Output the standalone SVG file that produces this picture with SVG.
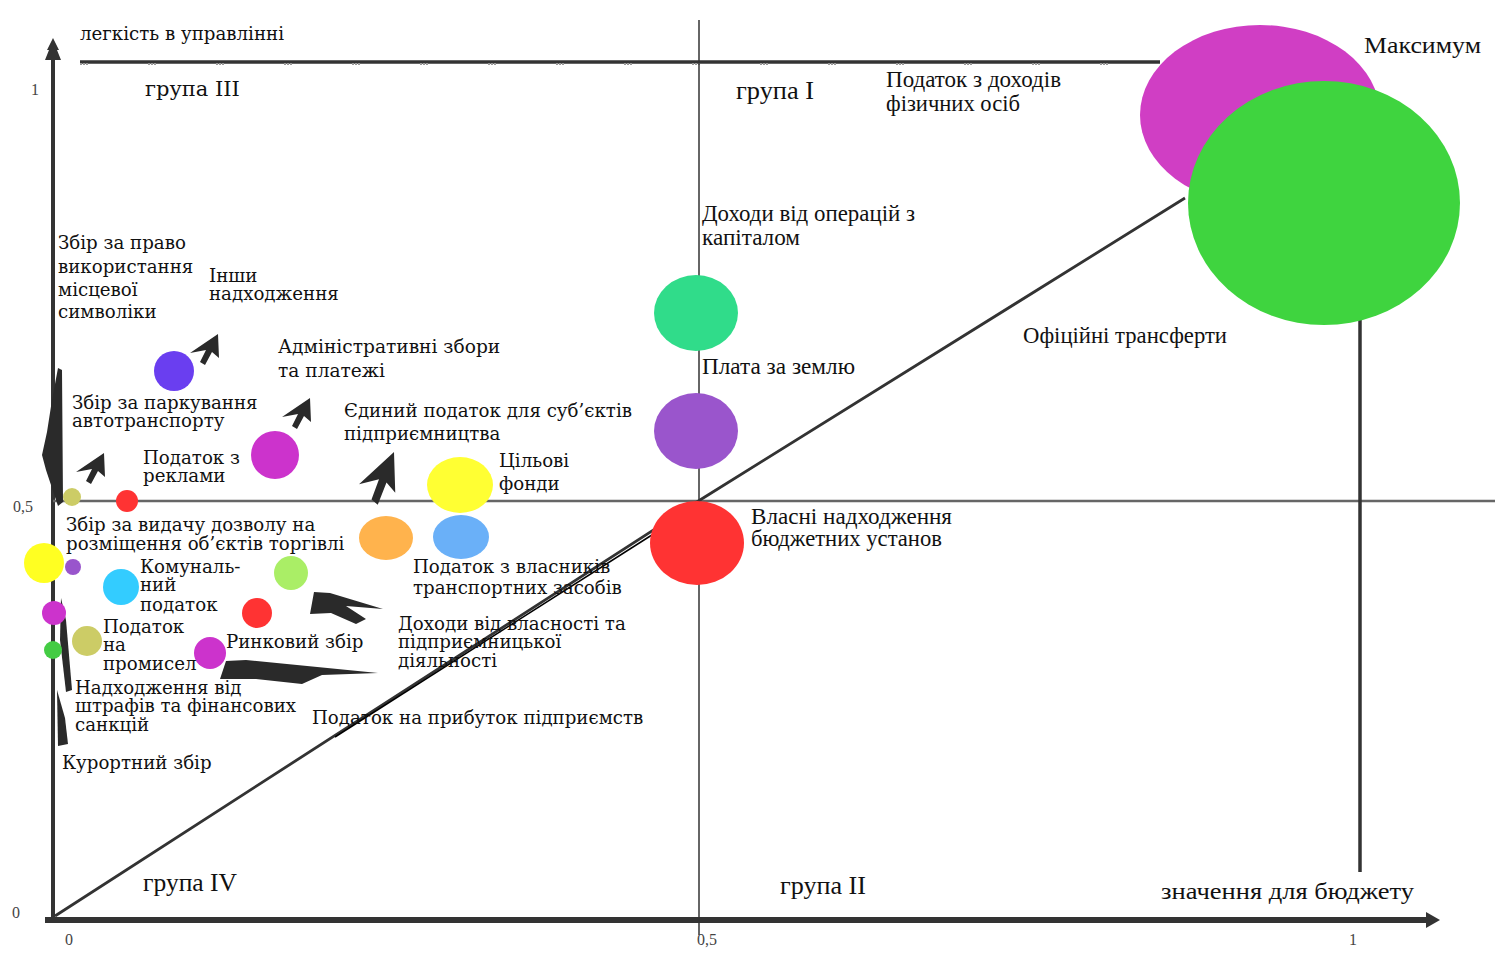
<svg xmlns="http://www.w3.org/2000/svg" width="1495" height="958" viewBox="0 0 1495 958">
<style>
.l{font-family:"DejaVu Serif","Liberation Serif",serif;font-size:18.2px;fill:#111}
.r{font-family:"Liberation Serif","DejaVu Serif",serif;font-size:22.5px;fill:#111}
.t{font-family:"Liberation Serif",serif;font-size:16px;fill:#444}
.ax{stroke:#333;fill:none}
.arw{fill:#2a2a2a}
</style>
<defs>
<path id="ua" d="M0,0 L1,24 L-6,18 L-13,31 L-18,28 L-12,16 L-28,19 Z"/>
</defs>
<rect width="1495" height="958" fill="#fff"/>
<g id="connectors">
  <line class="ax" x1="53" y1="920" x2="53" y2="55" stroke-width="4"/>
  <path d="M53,38 L59,50 L57,50 L61,60 L45,60 L49,50 L47,50 Z" fill="#333"/>
  <line class="ax" x1="45" y1="920" x2="1428" y2="920" stroke-width="6"/>
  <path d="M1426,912 L1440,920 L1426,928 Z" fill="#333"/>
  <line class="ax" x1="80" y1="62" x2="1160" y2="62" stroke-width="3.5"/>
  <line x1="80" y1="64" x2="1160" y2="64" stroke="#999" stroke-width="2" stroke-dasharray="2,1,2,1,2,60"/>
  <line class="ax" x1="699" y1="20" x2="699" y2="935" stroke-width="1.5"/>
  <line x1="53" y1="501" x2="1495" y2="501" stroke="#666" stroke-width="2.5"/>
  <line class="ax" x1="1360" y1="320" x2="1360" y2="872" stroke-width="3.5"/>
  <polyline class="ax" points="55,916 700,500 1185,198" stroke-width="2.8" stroke="#444"/>
  <line x1="335" y1="737" x2="655" y2="533" stroke="#000" stroke-width="1.5"/>
</g>
<g id="arrows">
  <use href="#ua" class="arw" transform="translate(218,334)"/>
  <use href="#ua" class="arw" transform="translate(310,398)"/>
  <use href="#ua" class="arw" transform="translate(104,453)"/>
  <use href="#ua" class="arw" transform="translate(394,452) scale(1.25,1.7)"/>
  <path class="arw" d="M314,592 L330,593 L383,609 L346,606 L366,619 L356,624 L331,613 L310,614 Z"/>
  <path class="arw" d="M226,661 L246,660 L378,673 L322,675 L302,684 L256,679 L220,679 Z"/>
  <path class="arw" d="M58,368 L62,370 L63,502 L58,506 L54,494 L46,470 L42,455 L47,432 L52,400 Z"/>
  <path class="arw" d="M61,598 L66,620 L72,690 L66,692 L60,640 Z"/>
  <path class="arw" d="M57,690 L65,718 L68,744 L58,746 Z"/>
</g>
<g id="ticks">
  <text class="t" x="31" y="95">1</text>
  <text class="t" x="13" y="512">0,5</text>
  <text class="t" x="12" y="918">0</text>
  <text class="t" x="65" y="945">0</text>
  <text class="t" x="697" y="945">0,5</text>
  <text class="t" x="1349" y="945">1</text>
</g>
<g id="n-pdfo"><ellipse cx="1260" cy="115" rx="120" ry="90" fill="#d03ec4"/></g>
<g id="n-transfers"><ellipse cx="1324" cy="203" rx="136" ry="122" fill="#3fd43f"/></g>
<g id="n-capital"><ellipse cx="696" cy="313" rx="42" ry="38" fill="#30dc8a"/></g>
<g id="n-land"><ellipse cx="696" cy="431" rx="42" ry="38" fill="#9a55cc"/></g>
<g id="n-own"><ellipse cx="697" cy="543" rx="47" ry="42" fill="#ff3333"/></g>
<g id="n-funds"><ellipse cx="460" cy="485" rx="33" ry="28" fill="#ffff33"/></g>
<g id="n-transport"><ellipse cx="461" cy="537" rx="28" ry="22" fill="#6ab0f8"/></g>
<g id="n-single"><ellipse cx="386" cy="538" rx="27" ry="22" fill="#ffb34d"/></g>
<g id="n-property"><circle cx="291" cy="573" r="17" fill="#aaee66"/></g>
<g id="n-market"><circle cx="257" cy="613" r="15" fill="#ff3333"/></g>
<g id="n-profit"><circle cx="210" cy="653" r="16" fill="#cc33cc"/></g>
<g id="n-admin"><circle cx="275" cy="455" r="24" fill="#cc33cc"/></g>
<g id="n-other"><circle cx="174" cy="371" r="20" fill="#6a3ef0"/></g>
<g id="n-parking"><circle cx="72" cy="497" r="9" fill="#cccc66"/></g>
<g id="n-ads"><circle cx="127" cy="501" r="11" fill="#ff3333"/></g>
<g id="n-trade"><circle cx="44" cy="563" r="20" fill="#ffff22"/></g>
<g id="n-small"><circle cx="73" cy="567" r="8" fill="#9955cc"/></g>
<g id="n-communal"><circle cx="121" cy="587" r="18" fill="#33ccff"/></g>
<g id="n-fines"><circle cx="54" cy="613" r="12" fill="#cc33cc"/></g>
<g id="n-trade2"><circle cx="87" cy="641" r="15" fill="#cccc66"/></g>
<g id="n-resort"><circle cx="53" cy="650" r="9" fill="#44cc44"/></g>
<g id="labels">
  <text class="l" x="80" y="40">легкість в управлінні</text>
  <text class="l" x="145" y="96" style="font-size:21px">група III</text>
  <text class="r" x="736" y="99" style="font-size:25px" textLength="78" lengthAdjust="spacingAndGlyphs">група I</text>
  <text class="r" x="886" y="87" textLength="175" lengthAdjust="spacingAndGlyphs">Податок з доходів</text>
  <text class="r" x="886" y="111" textLength="134" lengthAdjust="spacingAndGlyphs">фізичних осіб</text>
  <text class="r" x="1364" y="53" style="font-size:23px" textLength="117" lengthAdjust="spacingAndGlyphs">Максимум</text>
  <text class="r" x="702" y="221" textLength="213" lengthAdjust="spacingAndGlyphs">Доходи від операцій з</text>
  <text class="r" x="702" y="245" textLength="98" lengthAdjust="spacingAndGlyphs">капіталом</text>
  <text class="r" x="702" y="374" textLength="153" lengthAdjust="spacingAndGlyphs">Плата за землю</text>
  <text class="r" x="1023" y="343" textLength="204" lengthAdjust="spacingAndGlyphs">Офіційні трансферти</text>
  <text class="r" x="751" y="524" textLength="201" lengthAdjust="spacingAndGlyphs">Власні надходження</text>
  <text class="r" x="751" y="546" textLength="191" lengthAdjust="spacingAndGlyphs">бюджетних установ</text>
  <text class="r" x="143" y="891" style="font-size:25px" textLength="94" lengthAdjust="spacingAndGlyphs">група IV</text>
  <text class="r" x="780" y="894" style="font-size:25px" textLength="86" lengthAdjust="spacingAndGlyphs">група II</text>
  <text class="r" x="1161" y="899" style="font-size:23px" textLength="253" lengthAdjust="spacingAndGlyphs">значення для бюджету</text>
  <text class="l" x="58" y="249">Збір за право</text>
  <text class="l" x="58" y="273">використання</text>
  <text class="l" x="58" y="296">місцевої</text>
  <text class="l" x="58" y="318">символіки</text>
  <text class="l" x="209" y="282">Інши</text>
  <text class="l" x="209" y="300">надходження</text>
  <text class="l" x="278" y="353" style="font-size:18.6px">Адміністративні збори</text>
  <text class="l" x="278" y="377" style="font-size:18.6px">та платежі</text>
  <text class="l" x="72" y="409">Збір за паркування</text>
  <text class="l" x="72" y="427">автотранспорту</text>
  <text class="l" x="344" y="417">Єдиний податок для суб’єктів</text>
  <text class="l" x="344" y="440">підприємництва</text>
  <text class="l" x="143" y="464">Податок з</text>
  <text class="l" x="143" y="482">реклами</text>
  <text class="l" x="499" y="467">Цільові</text>
  <text class="l" x="499" y="490">фонди</text>
  <text class="l" x="66" y="531">Збір за видачу дозволу на</text>
  <text class="l" x="66" y="550">розміщення об’єктів торгівлі</text>
  <text class="l" x="140" y="573">Комуналь-</text>
  <text class="l" x="140" y="591">ний</text>
  <text class="l" x="140" y="611">податок</text>
  <text class="l" x="413" y="573">Податок з власників</text>
  <text class="l" x="413" y="594">транспортних засобів</text>
  <text class="l" x="103" y="633">Податок</text>
  <text class="l" x="103" y="651">на</text>
  <text class="l" x="103" y="670">промисел</text>
  <text class="l" x="226" y="648">Ринковий збір</text>
  <text class="l" x="398" y="630">Доходи від власності та</text>
  <text class="l" x="398" y="648">підприємницької</text>
  <text class="l" x="398" y="667">діяльності</text>
  <text class="l" x="75" y="694">Надходження від</text>
  <text class="l" x="75" y="712">штрафів та фінансових</text>
  <text class="l" x="75" y="731">санкцій</text>
  <text class="l" x="312" y="724">Податок на прибуток підприємств</text>
  <text class="l" x="62" y="769">Курортний збір</text>
</g>
</svg>
